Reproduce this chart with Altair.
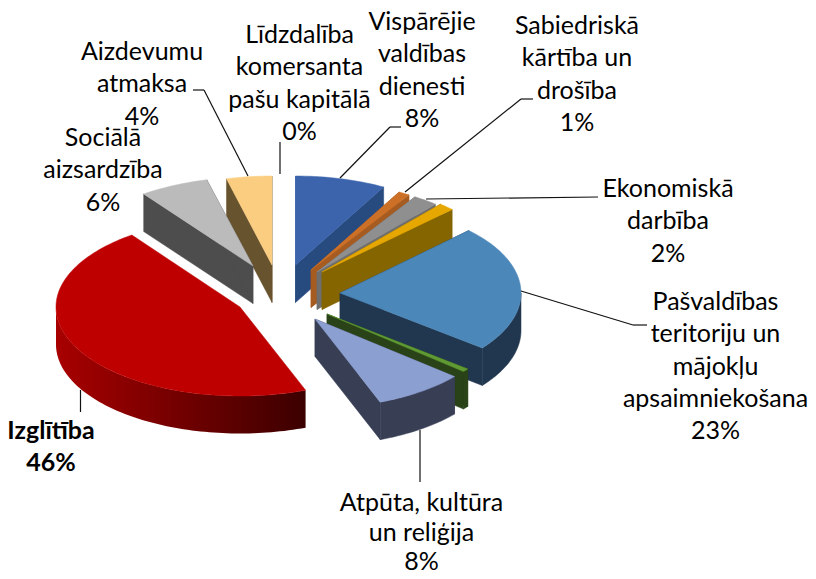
import math
import altair as alt
import pandas as pd

# ---- chart values -------------------------------------------------------
names = ["Līdzdalība komersanta pašu kapitālā", "Vispārējie valdības dienesti",
         "Sabiedriskā kārtība un drošība", "Ekonomiskā darbība", "(nav nosaukuma)",
         "Pašvaldības teritoriju un mājokļu apsaimniekošana", "(nav nosaukuma 2)",
         "Atpūta, kultūra un reliģija", "Izglītība", "Sociālā aizsardzība", "Aizdevumu atmaksa"]
shares = [0.0, 8.0, 1.0, 2.2, 1.4, 23.0, 0.6, 8.0, 45.8, 6.0, 4.0]

# ---- labels -------------------------------------------------------------
label_text = ["Līdzdalība\nkomersanta\npašu kapitālā\n0%", "Vispārējie\nvaldības\ndienesti\n8%",
              "Sabiedriskā\nkārtība un\ndrošība\n1%", "Ekonomiskā\ndarbība\n2%",
              "Pašvaldības\nteritoriju un\nmājokļu\napsaimniekošana\n23%",
              "Sociālā\naizsardzība\n6%", "Aizdevumu\natmaksa\n4%"]
bottom_text = ["Atpūta, kultūra\nun reliģija\n8%"]
bold_text = ["Izglītība\n46%"]

# ---- styling / layout (not data) ----------------------------------------
M = 8
top_col = ["#FFFFFF", "#3B64AD", "#CC7028", "#8F8F8F", "#E6A800", "#4C87B9", "#5F9A32", "#8C9FD1",
           "#BE0000", "#BBBBBB", "#FBCD80"]
wall_col = ["#FFFFFF", "#274A7F", "#A65B21", "#6E6E6E", "#846500", "#20374F", "#2A4218", "#383F55",
            "#800000", "#4D4D4D", "#68532F"]
centers = [(281, 265), (295.5, 265), (311, 270), (317, 272), (322, 272), (340, 293),
           (327, 314), (315, 319), (240, 307), (253, 266), (272, 265)]
radii_x = [183, 183, 183, 183, 183, 181, 179, 183, 184, 186, 183]
draw_order = [10, 9, 8, 1, 2, 3, 4, 5, 6, 7]
RY, DEPTH = 89, 37.5
label_pos = [(299.5, 35), (422, 22), (577, 26), (668, 189), (715.5, 302), (103, 138), (142, 52)]
bottom_pos = [(421.5, 503)]
bold_pos = [(51, 431)]
leaders = [(193, 90, 204, 90), (204, 90, 248, 176), (280, 142, 280, 174), (401, 127, 390, 127),
           (390, 127, 340, 178), (533, 99, 521, 99), (521, 99, 405, 192), (598, 197, 426, 199),
           (521, 291, 633, 325), (633, 325, 647, 325), (420, 430, 420, 482), (80.5, 390, 80.5, 412)]
RED = 8


def pt(i, deg, drop=0.0):
    a = math.radians(deg)
    c = centers[i]
    return [c[0] + radii_x[i] * math.sin(a) - M, c[1] - RY * math.cos(a) + drop - M]


def feat(ring, color):
    return {"type": "Feature", "properties": {"color": color},
            "geometry": {"type": "Polygon", "coordinates": [ring + [ring[0]]]}}


def arc(i, a0, a1, n, drop=0.0):
    return [pt(i, a0 + (a1 - a0) * k / n, drop) for k in range(n + 1)]


def front(a0, a1):
    # the part of the rim that faces the viewer
    lo, hi = max(a0, 90.0), min(a1, 270.0)
    return (lo, hi) if hi > lo else None


edges = [0.0]
for s in shares:
    edges.append(edges[-1] + s * 3.6)

PROJ = dict(type="identity", scale=1, translate=[0, 0], reflectY=False)

features = []
red_wall = []
for i in draw_order:
    c, a0, a1 = centers[i], edges[i], edges[i + 1]
    apex = [c[0] - M, c[1] - M]
    apex_low = [apex[0], apex[1] + DEPTH]
    n = max(2, int((a1 - a0) / 1.5))
    f = front(a0, a1)
    if i == RED:
        red_wall.append(feat(arc(i, f[0], f[1], 80) + arc(i, f[1], f[0], 80, DEPTH), "red"))
    else:
        features.append(feat([apex, pt(i, a0), pt(i, a0, DEPTH), apex_low], wall_col[i]))
        features.append(feat([apex, pt(i, a1), pt(i, a1, DEPTH), apex_low], wall_col[i]))
        if f:
            features.append(feat(arc(i, f[0], f[1], n) + arc(i, f[1], f[0], n, DEPTH), wall_col[i]))
    features.append(feat([apex] + arc(i, a0, a1, n), top_col[i]))

red_layer = alt.Chart(alt.Data(values=red_wall)).mark_geoshape(
    fill=alt.Gradient(gradient="linear", x1=0, x2=1, y1=0, y2=0,
                      stops=[alt.GradientStop(color="#A80000", offset=0),
                             alt.GradientStop(color="#3C0000", offset=1)]),
    stroke=None, opacity=1,
).project(**PROJ)

slices = alt.Chart(alt.Data(values=features)).mark_geoshape(strokeWidth=0.5, opacity=1).encode(
    color=alt.Color("properties.color:N", scale=None, legend=None),
    stroke=alt.Stroke("properties.color:N", scale=None, legend=None),
).project(**PROJ)

lead_df = pd.DataFrame([(a - M, b - M, c - M, d - M) for a, b, c, d in leaders],
                       columns=["x", "y", "x2", "y2"])
lines = alt.Chart(lead_df).mark_rule(color="#111111", strokeWidth=1.2).encode(
    x=alt.X("x:Q", scale=None, axis=None), y=alt.Y("y:Q", scale=None, axis=None),
    x2="x2:Q", y2="y2:Q")


def text_frame(texts, pos):
    return pd.DataFrame({"t": texts, "x": [p[0] - M for p in pos], "y": [p[1] - M for p in pos]})


FONT = dict(font="Lato", fontSize=25, lineBreak="\n", align="center", baseline="middle", color="#000000")
ENC = dict(x=alt.X("x:Q", scale=None, axis=None), y=alt.Y("y:Q", scale=None, axis=None), text="t:N")
labels = alt.Chart(text_frame(label_text, label_pos)).mark_text(lineHeight=32.3, **FONT).encode(**ENC)
bottom = alt.Chart(text_frame(bottom_text, bottom_pos)).mark_text(lineHeight=29.5, **FONT).encode(**ENC)
bolds = alt.Chart(text_frame(bold_text, bold_pos)).mark_text(lineHeight=32.3, fontWeight="bold", **FONT).encode(**ENC)

chart = alt.layer(red_layer, slices, lines, labels, bottom, bolds).properties(
    width=800, height=563, padding=0, autosize=alt.AutoSizeParams(type="none"), background="white"
).configure_view(stroke=None)

chart.save("out.html", embed_options={"renderer": "svg", "actions": False})
